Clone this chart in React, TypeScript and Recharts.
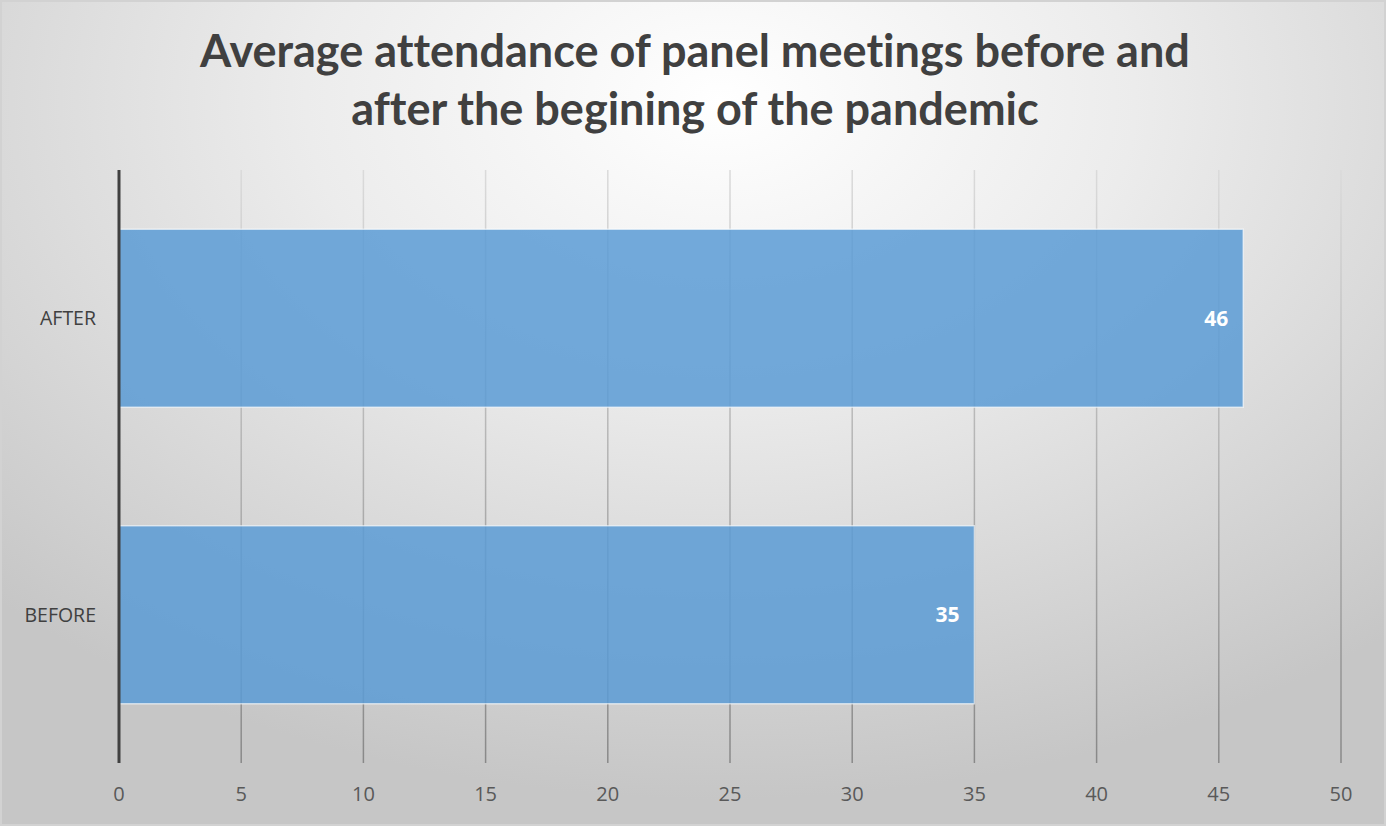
import React from 'react';
import { BarChart, Bar, XAxis, YAxis, CartesianGrid, LabelList } from 'recharts';

const categories = ['AFTER', 'BEFORE'];
const attendance = [46, 35];
const xTicks = [0, 5, 10, 15, 20, 25, 30, 35, 40, 45, 50];

const TITLE_LINES = ['Average attendance of panel meetings before and', 'after the begining of the pandemic'];

const data = categories.map((name, i) => ({ name, value: attendance[i] }));

export default function App() {
  return (
    <div
      style={{
        position: 'absolute',
        left: 0,
        top: 0,
        width: 1386,
        height: 826,
        boxSizing: 'border-box',
        border: '2px solid #d2d2d2',
        background: 'radial-gradient(ellipse 75% 85% at 52% 12%, #ffffff 0%, #ececec 40%, #c6c6c6 100%)',
        fontFamily: 'Lato, "Open Sans", sans-serif',
      }}
    >
      <div
        style={{
          position: 'absolute',
          left: 0,
          top: 19,
          width: 1386,
          textAlign: 'center',
          fontWeight: 700,
          fontSize: 45,
          lineHeight: '58px',
          color: '#404040',
          fontVariantLigatures: 'none',
        }}
      >
        {TITLE_LINES.map(t => (
          <div key={t}>{t}</div>
        ))}
      </div>
      <BarChart
        width={1384}
        height={824}
        data={data}
        layout="vertical"
        margin={{ top: 170, right: 43, bottom: 0, left: 0 }}
        barCategoryGap="20%"
        style={{ position: 'absolute', left: -2, top: -2 }}
      >
        <defs>
          <linearGradient id="gridGrad" gradientUnits="userSpaceOnUse" x1="0" y1="172" x2="0" y2="765">
            <stop offset="0%" stopColor="#dadada" />
            <stop offset="100%" stopColor="#888888" />
          </linearGradient>
        </defs>
        <CartesianGrid horizontal={false} stroke="url(#gridGrad)" strokeWidth={1.5} />
        <XAxis
          type="number"
          domain={[0, 50]}
          ticks={xTicks}
          axisLine={false}
          tickLine={false}
          height={61}
          tick={{ fill: '#595959', fontSize: 20, fontFamily: '"Open Sans", sans-serif' }}
          tickMargin={18}
        />
        <YAxis
          type="category"
          dataKey="name"
          width={119}
          axisLine={{ stroke: '#404040', strokeWidth: 3 }}
          tickLine={false}
          tick={{ fill: '#404040', fontSize: 19.5, fontFamily: '"Open Sans", sans-serif' }}
          tickMargin={17}
        />
        <Bar
          dataKey="value"
          fill="#5b9bd5"
          fillOpacity={0.85}
          stroke="#ffffff"
          strokeOpacity={0.6}
          strokeWidth={1.5}
          isAnimationActive={false}
        >
          <LabelList
            dataKey="value"
            position="insideRight"
            offset={15}
            fill="#ffffff"
            fontWeight={700}
            fontSize={21}
            fontFamily='"Open Sans", sans-serif'
          />
        </Bar>
      </BarChart>
    </div>
  );
}
